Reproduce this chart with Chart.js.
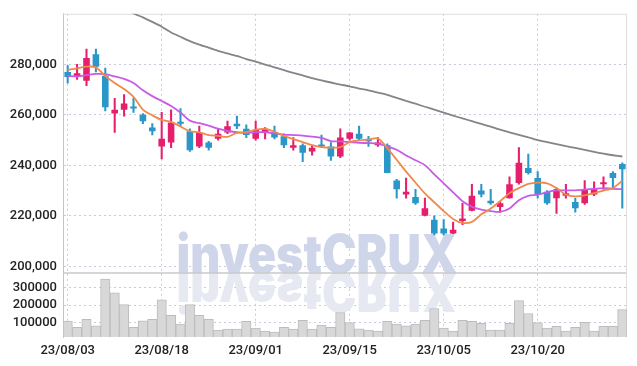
<!DOCTYPE html>
<html><head><meta charset="utf-8">
<script src="https://cdn.jsdelivr.net/npm/chart.js@4.4.1/dist/chart.umd.min.js"></script>
<style>html,body{margin:0;padding:0;background:#fff;overflow:hidden}#wrap{width:637px;height:366px}</style>
</head><body><div id="wrap"><canvas id="c" width="637" height="366"></canvas></div>
<script>
const dates = ['23/08/03','23/08/04','23/08/07','23/08/08','23/08/09','23/08/10','23/08/11','23/08/14','23/08/16','23/08/17',
'23/08/18','23/08/21','23/08/22','23/08/23','23/08/24','23/08/25','23/08/28','23/08/29','23/08/30','23/08/31',
'23/09/01','23/09/04','23/09/05','23/09/06','23/09/07','23/09/08','23/09/11','23/09/12','23/09/13','23/09/14',
'23/09/15','23/09/18','23/09/19','23/09/20','23/09/21','23/09/22','23/09/25','23/09/26','23/09/27','23/10/04',
'23/10/05','23/10/06','23/10/10','23/10/11','23/10/12','23/10/13','23/10/16','23/10/17','23/10/18','23/10/19',
'23/10/20','23/10/23','23/10/24','23/10/25','23/10/26','23/10/27','23/10/30','23/10/31','23/11/01','23/11/02'];
const opens = [277000,275000,273500,284000,275500,260500,262000,263000,260000,255000,
247500,249000,257000,253500,247500,249000,250500,253000,256500,254500,
250500,253000,253000,251500,247000,248000,245500,248000,247500,243500,
250500,252500,250500,248000,248000,234000,228500,227500,220000,218500,
215000,213000,218000,222000,230000,226000,223500,227000,233000,239000,
235000,229500,227000,228000,225500,225000,228500,232500,237000,240500];
const highs = [279500,280000,286000,286000,278500,266500,268000,266500,260500,256500,
261000,262000,262500,254500,255500,249500,254500,257500,259500,256000,
257500,255000,255500,252500,251000,248500,248000,252000,249000,254500,
253000,255500,251500,251000,248500,234500,235000,230500,227000,220000,
218500,217500,225000,232500,232500,230500,225500,235500,247000,244500,
237500,230000,231000,232500,227000,234000,233500,235500,237500,241000];
const lows = [272500,274000,271500,277000,261500,253000,259500,261000,256500,252000,
242500,247000,255500,245500,247000,246000,250000,252500,254500,251000,
250000,250500,250500,247000,246000,241500,244000,247000,242000,243000,
250000,250000,247500,247500,237000,227000,227000,224500,220000,212500,
212500,213000,216500,222000,227500,224500,221500,227000,232500,236500,
227000,224500,221000,227000,221500,224500,228000,230500,231000,223000];
const closes = [275000,276500,282500,279000,263000,262000,264500,262500,257500,253500,
250500,257000,256500,246000,253000,247000,252500,255500,255500,252000,
254000,254500,251000,248000,248000,245000,247000,247500,243500,251000,
253000,250500,249500,249000,237000,230500,229500,225000,223000,213000,
213000,214500,219000,228000,228500,225000,225000,232500,241000,237000,
228500,225000,230500,229000,223000,230500,230500,233000,235000,238500];
const volumes = [107000,71000,117000,79000,351000,271000,203000,71000,109000,117000,
231000,140000,89000,203000,140000,117000,54000,60000,60000,106000,
66000,49000,43000,71000,60000,111000,60000,83000,71000,157000,
98000,62000,54000,49000,106000,90000,79000,90000,111000,180000,
66000,49000,111000,106000,94000,54000,54000,94000,226000,151000,
98000,66000,77000,49000,71000,100000,49000,77000,77000,174000];
const ma5 = [277800,278400,279100,278800,275400,272600,270200,267100,262100,259800,
258000,257200,255400,253500,253100,252000,251700,251300,252900,253100,
254100,254400,253300,251700,250400,249200,248000,247200,247000,247200,
249200,249900,250200,250700,246800,242200,237500,233200,228900,225400,
221900,218800,217200,217600,220600,222900,225800,229000,231000,232700,
233200,232900,231000,228400,227700,228100,229000,230000,231000,233900];
const ma10 = [275400,275200,275700,276200,276100,275200,274200,272600,269700,267400,
265500,263500,260900,257700,256700,255700,254500,253600,253100,252800,
253100,253100,252700,252200,252000,251800,251400,250900,249600,249500,
249200,248900,248800,248600,247500,246200,243900,242000,240100,236400,
232900,229300,225800,223600,222500,221900,221600,222900,226200,227900,
228400,229400,230100,230100,230100,230400,230700,231000,230700,230600];
const ma60 = [314700,312400,310200,308100,306100,304200,302200,300100,298600,296800,
294900,292600,290900,289200,287800,286600,285300,284300,283300,282100,
281100,279900,278800,277700,276600,275600,274500,273600,272800,272000,
271300,270400,269700,268800,267900,266700,265500,264400,263200,262100,
260900,259700,258600,257500,256400,255300,254100,253100,252100,251100,
250000,249200,248400,247600,246900,246100,245300,244600,244000,243500];
const priceTicks = [200000,220000,240000,260000,280000];
const volumeTicks = [100000,200000,300000];
const xTickEvery = 10;

const UP = '#e61f6c', DOWN = '#2b96c8';
const candleColors = opens.map((o,i)=> closes[i] >= o ? UP : DOWN);
const wicks = lows.map((l,i)=>[l, highs[i]]);
const bodies = opens.map((o,i)=>[o, closes[i]]);

const gridColor = '#c6cbdf';
const tickFont = {family:'Roboto', size:13, weight:'500'};

const frame = {
  id:'frame',
  beforeDatasetsDraw(chart){
    const {ctx, chartArea:a, scales} = chart;
    const base = scales.y.bottom;
    ctx.save();
    ctx.font = '900 53px Inter, "DejaVu Sans", sans-serif';
    const txt = 'investCRUX';
    const w = ctx.measureText(txt).width;
    const sx = 281 / w;
    ctx.translate(317, base);
    ctx.scale(sx, 1);
    ctx.textAlign = 'center';
    ctx.textBaseline = 'alphabetic';
    ctx.fillStyle = '#d0d6ea';
    ctx.fillText(txt, 0, 0);
    ctx.scale(1, -1);
    ctx.fillStyle = '#e6e9f2';
    ctx.fillText(txt, 0, 0);
    ctx.restore();
    ctx.save();
    ctx.strokeStyle = '#c8c8c8';
    ctx.lineWidth = 1.5;
    ctx.beginPath(); ctx.moveTo(a.left, base); ctx.lineTo(a.right, base); ctx.stroke();
    ctx.strokeStyle = '#dedede'; ctx.lineWidth = 1;
    ctx.beginPath(); ctx.moveTo(a.left, a.top+0.5); ctx.lineTo(a.right, a.top+0.5); ctx.stroke();
    ctx.beginPath(); ctx.moveTo(a.right-0.5, a.top); ctx.lineTo(a.right-0.5, a.bottom); ctx.stroke();
    ctx.restore();
  }
};

new Chart(document.getElementById('c'), {
  data: {
    labels: dates,
    datasets: [
      {type:'line', data: ma5, borderColor:'#ef8a4c', borderWidth:1.8, pointRadius:0, tension:0.3, yAxisID:'y', order:0},
      {type:'line', data: ma10, borderColor:'#c95ae6', borderWidth:1.8, pointRadius:0, tension:0.3, yAxisID:'y', order:0},
      {type:'line', data: ma60, borderColor:'#858585', borderWidth:1.8, pointRadius:0, tension:0.2, yAxisID:'y', order:0},
      {type:'bar', data: bodies, backgroundColor: candleColors, borderWidth:0, barPercentage:0.7, categoryPercentage:1, grouped:false, minBarLength:2, yAxisID:'y', order:1},
      {type:'bar', data: wicks, backgroundColor: candleColors, borderWidth:0, barThickness:1.4, grouped:false, yAxisID:'y', order:2},
      {type:'bar', data: volumes, backgroundColor:'#d8d8d8', borderColor:'#bcbcbc', borderWidth:1, barPercentage:1, categoryPercentage:1, grouped:false, yAxisID:'yv', order:3}
    ]
  },
  options: {
    responsive:false, animation:false,
    layout:{padding:{top:9, right:10, left:0, bottom:0}},
    plugins:{legend:{display:false}, tooltip:{enabled:false}},
    scales:{
      x:{
        type:'category', offset:true,
        grid:{display:true, offset:false, color:gridColor, drawTicks:false},
        border:{display:false, dash:[2,3]},
        ticks:{autoSkip:false, maxRotation:0, color:'#222', font:tickFont, padding:6},
        afterBuildTicks(s){ s.ticks = s.ticks.filter(t=> t.value % xTickEvery === 0); },
        afterFit(s){ s.height = 29; }
      },
      yv:{
        type:'linear', position:'left', stack:'p', stackWeight:1,
        min:14300, max:387000,
        grid:{color:gridColor, drawTicks:false},
        border:{display:true, color:'#c4c4c4', dash:[2,3]},
        ticks:{autoSkip:false, color:'#222', font:tickFont, padding:6, callback:v=>String(v)},
        afterBuildTicks(s){ s.ticks = volumeTicks.map(v=>({value:v})); },
        afterFit(s){ s.width = 63; }
      },
      y:{
        type:'linear', position:'left', stack:'p', stackWeight:4.046,
        min:197400, max:300000,
        grid:{color:gridColor, drawTicks:false},
        border:{display:true, color:'#c4c4c4', dash:[2,3]},
        ticks:{autoSkip:false, color:'#222', font:tickFont, padding:6, callback:v=>v.toLocaleString('en-US')},
        afterBuildTicks(s){ s.ticks = priceTicks.map(v=>({value:v})); },
        afterFit(s){ s.width = 63; }
      }
    }
  },
  plugins:[frame]
});
</script></body></html>
